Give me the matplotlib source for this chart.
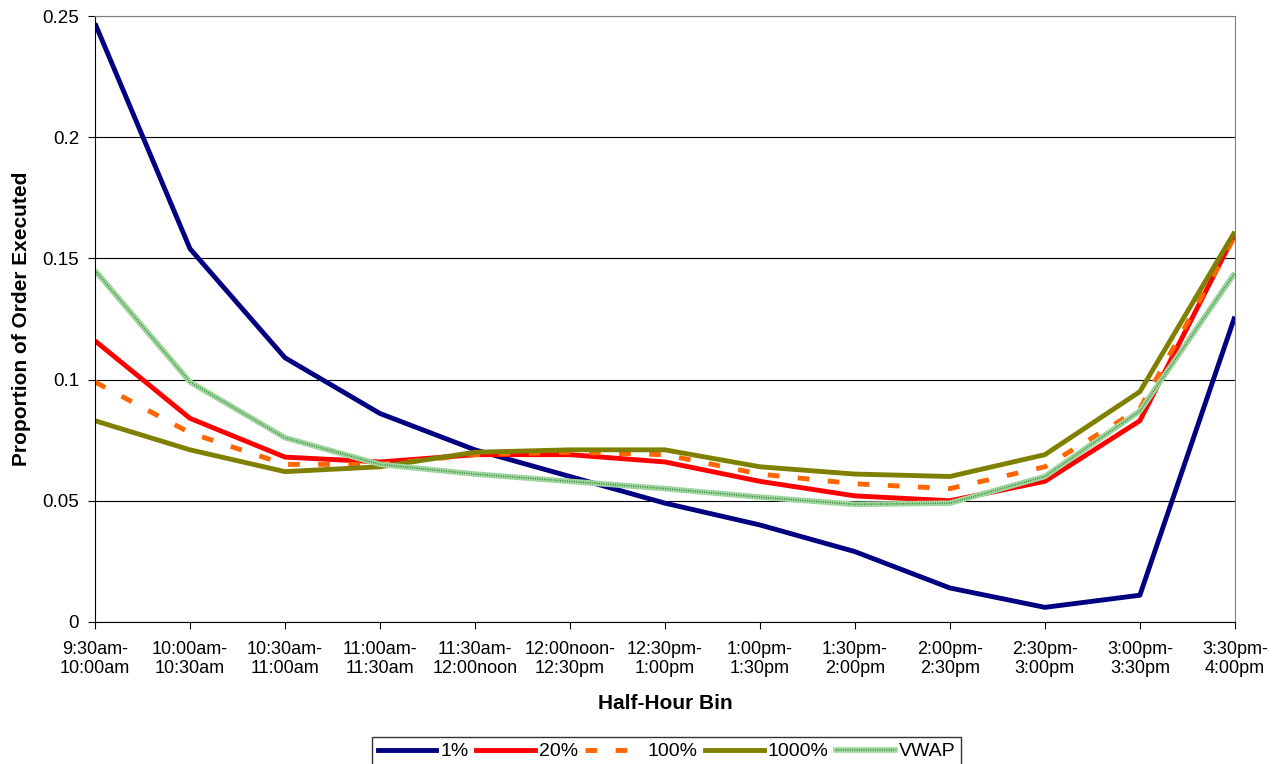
"""
    Proportion of order executed per half-hour bin
"""
import matplotlib
matplotlib.use("Agg")
import matplotlib.pyplot as plt
from matplotlib.lines import Line2D
import numpy as np

plt.rcParams['font.family'] = ['Liberation Sans', 'DejaVu Sans']

# half-hour bins
bins = ["9:30am-\n10:00am", "10:00am-\n10:30am", "10:30am-\n11:00am",
        "11:00am-\n11:30am", "11:30am-\n12:00noon", "12:00noon-\n12:30pm",
        "12:30pm-\n1:00pm", "1:00pm-\n1:30pm", "1:30pm-\n2:00pm",
        "2:00pm-\n2:30pm", "2:30pm-\n3:00pm", "3:00pm-\n3:30pm",
        "3:30pm-\n4:00pm"]

# proportion executed in each bin
pct_1 = [0.247, 0.154, 0.109, 0.086, 0.071, 0.060, 0.049, 0.040, 0.029, 0.014, 0.006, 0.011, 0.126]
pct_20 = [0.116, 0.084, 0.068, 0.066, 0.069, 0.069, 0.066, 0.058, 0.052, 0.050, 0.058, 0.083, 0.160]
pct_100 = [0.099, 0.078, 0.065, 0.065, 0.069, 0.070, 0.069, 0.061, 0.057, 0.055, 0.064, 0.088, 0.159]
pct_1000 = [0.083, 0.071, 0.062, 0.064, 0.070, 0.071, 0.071, 0.064, 0.061, 0.060, 0.069, 0.095, 0.161]
vwap = [0.145, 0.099, 0.076, 0.065, 0.061, 0.058, 0.055, 0.0515, 0.0485, 0.049, 0.060, 0.087, 0.144]

x = np.arange(len(bins))

dash = (0, (2.4, 3.8))
dots = (0, (0.6, 0.9))

fig = plt.figure(figsize=(12.75, 7.64), dpi=100)
ax = fig.add_axes([0.0745, 0.186, 0.894, 0.793])

ax.plot(x, pct_1, color='#000080', linewidth=3.5, solid_capstyle='butt')
ax.plot(x, pct_20, color='#ff0000', linewidth=3.5, solid_capstyle='butt')
ax.plot(x, pct_100, color='#ff6600', linewidth=3.5, linestyle=dash)
ax.plot(x, pct_1000, color='#808000', linewidth=3.5, solid_capstyle='butt')
# VWAP: light green band with a fine dark stipple on top
ax.plot(x, vwap, color='#9fd49f', linewidth=4.0, solid_capstyle='butt')
ax.plot(x, vwap, color='#2e8b2e', linewidth=1.1, linestyle=dots)

ax.set_xlim(0, 12)
ax.set_ylim(0, 0.25)
ax.set_yticks([0, 0.05, 0.1, 0.15, 0.2, 0.25])
ax.set_yticklabels(["0", "0.05", "0.1", "0.15", "0.2", "0.25"])
ax.set_xticks(x)
ax.set_xticklabels(bins, fontsize=13, linespacing=1.17)
ax.tick_params(axis='y', labelsize=13.5, direction='out', length=5, color='black', pad=6.5)
ax.tick_params(axis='x', direction='out', length=5, color='black', pad=8.5)

ax.grid(axis='y', color='black', linewidth=0.8)
ax.set_axisbelow(True)
for side in ['top', 'right']:
    ax.spines[side].set_color('#808080')
ax.spines['left'].set_color('black')
ax.spines['bottom'].set_color('black')

ax.set_xlabel("Half-Hour Bin", fontsize=15, fontweight='bold', labelpad=12)
ax.set_ylabel("Proportion of Order Executed", fontsize=15, fontweight='bold', labelpad=8)

# legend
handles = [
    Line2D([], [], color='#000080', linewidth=3.5),
    Line2D([], [], color='#ff0000', linewidth=3.5),
    Line2D([], [], color='#ff6600', linewidth=3.5, linestyle=dash),
    Line2D([], [], color='#808000', linewidth=3.5),
    (Line2D([], [], color='#9fd49f', linewidth=4.0),
     Line2D([], [], color='#2e8b2e', linewidth=1.1, linestyle=dots)),
]
labels = ["1%", "20%", "100%", "1000%", "VWAP"]
leg = ax.legend(handles, labels, loc='upper center', bbox_to_anchor=(0.5015, -0.19),
                ncol=5, fontsize=14, frameon=True, fancybox=False,
                edgecolor='black', handlelength=3.0, handletextpad=0.2,
                columnspacing=0.4, borderpad=0.3, borderaxespad=0)
leg.get_frame().set_linewidth(1.0)

plt.savefig("out.png", dpi=100)
